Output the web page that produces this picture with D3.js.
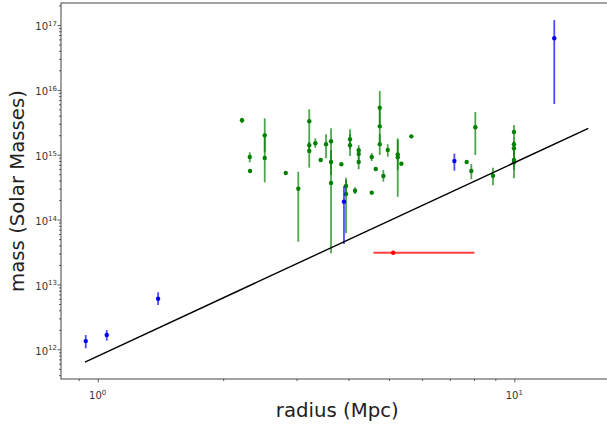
<!DOCTYPE html>
<html><head><meta charset="utf-8">
<script src="https://cdn.jsdelivr.net/npm/d3@7"></script>
<style>body{margin:0;background:#fff}svg{display:block}text{font-family:"DejaVu Sans",sans-serif}</style>
</head><body><svg id="c" width="607" height="429"></svg>
<script>
// ---- data ----
const xDomain = [0.8163, 17.30];
const yDomain = [3.487e11, 2.183e17];
const xTickLabels = ["0", "1"];
const yTickLabels = ["12", "13", "14", "15", "16", "17"];
const xTitle = "radius (Mpc)";
const yTitle = "mass (Solar Masses)";

// green sample: radius, mass, lower, upper
const greenR  = [2.220,2.317,2.321,2.517,2.517,2.827,3.030,3.219,3.219,3.219,3.329,3.430,3.532,3.631,3.631,3.631,3.844,3.945,3.945,4.033,4.033,4.146,4.231,4.231,4.231,4.547,4.547,4.649,4.753,4.753,4.753,4.849,4.968,5.250,5.250,5.356,5.659,7.685,7.884,8.060,8.889,9.98,9.98,9.98,9.98,9.98];
const greenM  = [3.40e15,9.22e14,5.61e14,1.99e15,8.90e14,5.22e14,2.99e14,3.28e15,1.40e15,1.14e15,1.50e15,8.29e14,1.45e15,1.61e15,7.73e14,3.66e14,7.12e14,3.30e14,2.48e14,1.73e15,1.40e15,2.79e14,1.17e15,1.03e15,7.73e14,9.22e14,2.60e14,6.03e14,5.31e15,2.74e15,1.45e15,4.70e14,1.18e15,1.01e15,9.12e14,7.27e14,1.92e15,7.73e14,5.61e14,2.65e15,4.75e14,2.24e15,1.45e15,1.26e15,8.29e14,7.64e14];
const greenLo = [3.08e15,7.64e14,5.61e14,1.09e15,3.76e14,5.22e14,4.56e13,2.01e15,1.22e15,6.31e14,1.28e15,8.29e14,8.81e14,9.91e14,4.87e14,3.02e13,7.12e14,2.39e14,6.14e13,1.22e15,9.55e14,2.48e14,9.91e14,8.29e14,5.96e14,8.00e14,2.60e14,6.03e14,2.87e15,1.57e15,9.91e14,3.84e14,9.33e14,5.81e14,2.25e14,7.27e14,1.92e15,7.73e14,4.18e14,9.91e14,3.38e14,1.75e15,1.14e15,9.91e14,5.81e14,4.33e14];
const greenHi = [3.72e15,1.09e15,5.61e14,3.64e15,2.14e15,5.22e14,5.47e14,5.01e15,1.57e15,2.01e15,1.79e15,8.29e14,2.06e15,2.55e15,1.18e15,9.91e14,7.12e14,4.42e14,4.07e14,2.47e15,2.09e15,3.15e14,1.40e15,1.27e15,9.91e14,1.06e15,2.60e14,6.03e14,9.60e15,5.01e15,2.09e15,5.81e14,1.45e15,1.79e15,1.69e15,7.27e14,1.92e15,7.73e14,7.19e14,4.56e15,6.31e14,2.87e15,1.81e15,1.63e15,1.18e15,1.09e15];

// blue sample
const blueR  = [0.936,1.051,1.396,3.90,7.18,12.47];
const blueM  = [1.34e12,1.66e12,6.03e12,1.89e14,8.0e14,6.24e16];
const blueLo = [1.036e12,1.36e12,4.82e12,4.20e13,5.67e14,6.05e15];
const blueHi = [1.66e12,1.98e12,7.57e12,3.30e14,1.04e15,1.19e17];

// red point with horizontal error
const redR = [5.12];
const redM = [3.08e13];
const redRLo = [4.59];
const redRHi = [8.02];

// reference line
const lineR = [0.932, 15.05];
const lineM = [6.37e11, 2.55e15];

// ---- layout ----
const L = 61, T = 3, B = 379, R = 613.5;
const svg = d3.select("#c");
const x = d3.scaleLog().domain(xDomain).range([L, R]);
const y = d3.scaleLog().domain(yDomain).range([B, T]);

const plot = svg.append("g");
plot.append("clipPath").attr("id","clip").append("rect").attr("x",L).attr("y",T).attr("width",R-L).attr("height",B-T);
const g = plot.append("g").attr("clip-path","url(#clip)");

function errSeries(rs, ms, lo, hi, color){
  const data = rs.map((r,i)=>({r, m:ms[i], lo:lo[i], hi:hi[i]}));
  g.append("g").selectAll("line").data(data.filter(d=>d.lo!==d.hi)).join("line")
    .attr("x1",d=>x(d.r)).attr("x2",d=>x(d.r))
    .attr("y1",d=>y(d.lo)).attr("y2",d=>y(d.hi))
    .attr("stroke",color).attr("stroke-width",1.8).attr("stroke-opacity",0.7);
  g.append("g").selectAll("circle").data(data).join("circle")
    .attr("cx",d=>x(d.r)).attr("cy",d=>y(d.m)).attr("r",2.2).attr("fill",color);
}
errSeries(greenR, greenM, greenLo, greenHi, "#008000");
errSeries(blueR, blueM, blueLo, blueHi, "#0000ff");

// red horizontal error
const redData = redR.map((r,i)=>({r, m:redM[i], lo:redRLo[i], hi:redRHi[i]}));
g.append("g").selectAll("line").data(redData).join("line")
  .attr("x1",d=>x(d.lo)).attr("x2",d=>x(d.hi)).attr("y1",d=>y(d.m)).attr("y2",d=>y(d.m))
  .attr("stroke","#ff0000").attr("stroke-width",1.8).attr("stroke-opacity",0.75);
g.append("g").selectAll("circle").data(redData).join("circle")
  .attr("cx",d=>x(d.r)).attr("cy",d=>y(d.m)).attr("r",2.2).attr("fill","#ff0000");

// line
g.append("path").datum(lineR.map((r,i)=>[r,lineM[i]]))
  .attr("d", d3.line().x(d=>x(d[0])).y(d=>y(d[1])))
  .attr("fill","none").attr("stroke","#000").attr("stroke-width",1.4);

// ---- axes ----
const minorX = [];
[0.1,1,10].forEach(p=>{for(let k=1;k<10;k++){const v=k*p; if(v>=xDomain[0]&&v<=xDomain[1]) minorX.push(v);}});
const majorX = minorX.filter(v=>[1,10].includes(Math.round(v*1000)/1000));
const minorY = [];
for(let e=11;e<=17;e++){for(let k=1;k<10;k++){const v=k*Math.pow(10,e); if(v>=yDomain[0]&&v<=yDomain[1]) minorY.push(v);}}
const majorY = yTickLabels.map(s=>Math.pow(10,+s));

const axisColor = "#333";
const xa = svg.append("g").attr("transform",`translate(0,${B})`);
xa.call(d3.axisBottom(x).tickValues(minorX.filter(v=>!majorX.includes(v))).tickSize(2).tickFormat(""));
xa.append("g").call(d3.axisBottom(x).tickValues(majorX).tickSize(3.5).tickFormat(""));
xa.selectAll(".domain").remove();
xa.selectAll("line").attr("stroke",axisColor).attr("stroke-width",0.8);

const ya = svg.append("g").attr("transform",`translate(${L},0)`);
ya.call(d3.axisLeft(y).tickValues(minorY.filter(v=>!majorY.some(m=>Math.abs(m-v)/m<1e-6))).tickSize(2).tickFormat(""));
ya.append("g").call(d3.axisLeft(y).tickValues(majorY).tickSize(3.5).tickFormat(""));
ya.selectAll(".domain").remove();
ya.selectAll("line").attr("stroke",axisColor).attr("stroke-width",0.8);

// tick labels
xTickLabels.forEach(s=>{
  const t = svg.append("text").attr("x",x(Math.pow(10,+s))).attr("y",399)
    .attr("text-anchor","middle").attr("font-size",10).attr("fill","#333");
  t.append("tspan").text("10");
  t.append("tspan").attr("font-size",7).attr("dy",-4.5).text(s);
});
yTickLabels.forEach(s=>{
  const t = svg.append("text").attr("x",57).attr("y",y(Math.pow(10,+s))+5.5)
    .attr("text-anchor","end").attr("font-size",10).attr("fill","#333");
  t.append("tspan").text("10");
  t.append("tspan").attr("font-size",7).attr("dy",-4.5).text(s);
});

// spines
svg.append("rect").attr("x",L).attr("y",T).attr("width",R-L).attr("height",B-T)
  .attr("fill","none").attr("stroke","#444").attr("stroke-width",1);

// titles
svg.append("text").attr("x",(L+R)/2).attr("y",417).attr("text-anchor","middle")
  .attr("font-size",19.7).attr("fill","#222").text(xTitle);
svg.append("text").attr("transform",`translate(24,${(T+B)/2}) rotate(-90)`).attr("text-anchor","middle")
  .attr("font-size",19.7).attr("fill","#222").text(yTitle);
</script></body></html>
